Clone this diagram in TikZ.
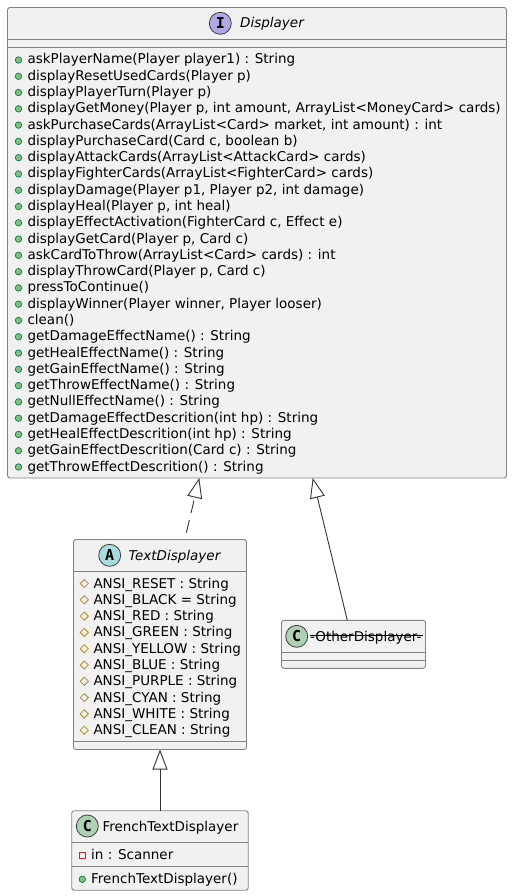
\documentclass[tikz,border=0pt]{standalone}
\usepackage{fontspec}
\setmainfont{DejaVu Sans}
\setmonofont{DejaVu Sans Mono}
\usetikzlibrary{arrows.meta,calc,shapes.geometric}

\definecolor{boxfill}{HTML}{F1F1F1}
\definecolor{boxline}{HTML}{828282}
\definecolor{arrowline}{HTML}{333333}
\definecolor{ifacefill}{HTML}{B4A7E5}
\definecolor{absfill}{HTML}{A9DCDF}
\definecolor{classfill}{HTML}{ADD1B2}
\definecolor{publine}{HTML}{038048}
\definecolor{pubfill}{HTML}{84BE84}
\definecolor{protline}{HTML}{B38D22}
\definecolor{privline}{HTML}{C82930}

\tikzset{
    umlbox/.style={draw=boxline,fill=boxfill,line width=0.9pt,rounded corners=2.5pt,
        anchor=north west,inner sep=0pt,outer sep=0pt},
    sepline/.style={draw=boxline,line width=0.9pt},
    label/.style={anchor=base west,inner sep=0pt,font=\fontsize{13.5}{16}\selectfont},
    icon/.style={circle,draw=black!75,line width=0.8pt,minimum size=22pt,inner sep=0pt,
        font=\fontsize{15}{15}\ttfamily\bfseries\selectfont},
    pubdot/.style={circle,draw=publine,fill=pubfill,line width=0.7pt,minimum size=6.5pt,inner sep=0pt},
    protdot/.style={diamond,draw=protline,line width=0.8pt,minimum size=8.5pt,inner sep=0pt},
    privdot/.style={rectangle,draw=privline,line width=0.8pt,minimum size=6pt,inner sep=0pt},
    extends/.style={draw=arrowline,line width=0.9pt,-{Triangle[open,length=20pt,width=15pt,fill=white]}},
}

\begin{document}
\begin{tikzpicture}[x=1pt,y=-1pt]
    \useasboundingbox (0,0) rectangle (512,896);

    % Displayer
    \node[umlbox,minimum width=499pt,minimum height=470.5pt] (displayer) at (7.5,7.5) {};
    \draw[sepline] (7.5,39.5) -- (506.5,39.5);
    \draw[sepline] (7.5,47.5) -- (506.5,47.5);
    \node[icon,fill=ifacefill] (displayerIcon) at (220.3,23.3) {I};
    \node[label,font=\fontsize{13.5}{16}\itshape\selectfont] (displayerName) at (240,28) {Displayer};
    \foreach \m [count=\i] in {
        {askPlayerName(Player player1) : String},
        {displayResetUsedCards(Player p)},
        {displayPlayerTurn(Player p)},
        {displayGetMoney(Player p, int amount, ArrayList<MoneyCard> cards)},
        {askPurchaseCards(ArrayList<Card> market, int amount) : int},
        {displayPurchaseCard(Card c, boolean b)},
        {displayAttackCards(ArrayList<AttackCard> cards)},
        {displayFighterCards(ArrayList<FighterCard> cards)},
        {displayDamage(Player p1, Player p2, int damage)},
        {displayHeal(Player p, int heal)},
        {displayEffectActivation(FighterCard c, Effect e)},
        {displayGetCard(Player p, Card c)},
        {askCardToThrow(ArrayList<Card> cards) : int},
        {displayThrowCard(Player p, Card c)},
        {pressToContinue()},
        {displayWinner(Player winner, Player looser)},
        {clean()},
        {getDamageEffectName() : String},
        {getHealEffectName() : String},
        {getGainEffectName() : String},
        {getThrowEffectName() : String},
        {getNullEffectName() : String},
        {getDamageEffectDescrition(int hp) : String},
        {getHealEffectDescrition(int hp) : String},
        {getGainEffectDescrition(Card c) : String},
        {getThrowEffectDescrition() : String}}
    {
        \node[pubdot] (displayerDot\i) at (18.5,{60+16.28*(\i-1)}) {};
        \node[label] (displayerRow\i) at (27.3,{64+16.28*(\i-1)}) {\m};
    }

    % TextDisplayer
    \node[umlbox,minimum width=173pt,minimum height=210pt] (textDisplayer) at (73.5,539.5) {};
    \draw[sepline] (73.5,571.5) -- (246.5,571.5);
    \draw[sepline] (73.5,741.5) -- (246.5,741.5);
    \node[icon,fill=absfill] (textDisplayerIcon) at (109.7,555.3) {A};
    \node[label,font=\fontsize{13.5}{16}\itshape\selectfont] (textDisplayerName) at (128.3,560) {TextDisplayer};
    \foreach \m [count=\i] in {
        {ANSI\_RESET : String},
        {ANSI\_BLACK = String},
        {ANSI\_RED : String},
        {ANSI\_GREEN : String},
        {ANSI\_YELLOW : String},
        {ANSI\_BLUE : String},
        {ANSI\_PURPLE : String},
        {ANSI\_CYAN : String},
        {ANSI\_WHITE : String},
        {ANSI\_CLEAN : String}}
    {
        \node[protdot] (textDisplayerDot\i) at (84.3,{583.5+16.3*(\i-1)}) {};
        \node[label] (textDisplayerRow\i) at (93.3,{588+16.3*(\i-1)}) {\m};
    }

    % OtherDisplayer
    \node[umlbox,minimum width=144pt,minimum height=48pt] (otherDisplayer) at (281.5,620.3) {};
    \draw[sepline] (281.5,652.3) -- (425.5,652.3);
    \draw[sepline] (281.5,660.3) -- (425.5,660.3);
    \node[icon,fill=classfill] (otherDisplayerIcon) at (296.7,636.3) {C};
    \node[label] (otherDisplayerName) at (310,641) {-OtherDisplayer-};
    \draw[line width=0.7pt] (otherDisplayerName.base west) ++(0,-5.2) -- ++(112.5,0);

    % FrenchTextDisplayer
    \node[umlbox,minimum width=176.5pt,minimum height=79.5pt] (frenchDisplayer) at (71.7,810.7) {};
    \draw[sepline] (71.7,842.3) -- (248.2,842.3);
    \draw[sepline] (71.7,866.3) -- (248.2,866.3);
    \node[icon,fill=classfill] (frenchDisplayerIcon) at (87.3,826) {C};
    \node[label] (frenchDisplayerName) at (102.3,831) {FrenchTextDisplayer};
    \node[privdot] (frenchDisplayerDot1) at (82.3,855) {};
    \node[label] (frenchDisplayerRow1) at (91,859) {in : Scanner};
    \node[pubdot] (frenchDisplayerDot2) at (82.3,879.3) {};
    \node[label] (frenchDisplayerRow2) at (91,883) {FrenchTextDisplayer()};

    % inheritance
    \draw[extends,dash pattern=on 13pt off 7pt,dash phase=13pt]
        ($(textDisplayer.north west)!0.643!(textDisplayer.north east)$) --
        ($(displayer.south west)!0.3844!(displayer.south east)$);
    \draw[extends]
        ($(otherDisplayer.north west)!0.457!(otherDisplayer.north east)$) --
        ($(displayer.south west)!0.6116!(displayer.south east)$);
    \draw[extends] (frenchDisplayer.north -| textDisplayer.south) -- (textDisplayer.south);
\end{tikzpicture}
\end{document}
